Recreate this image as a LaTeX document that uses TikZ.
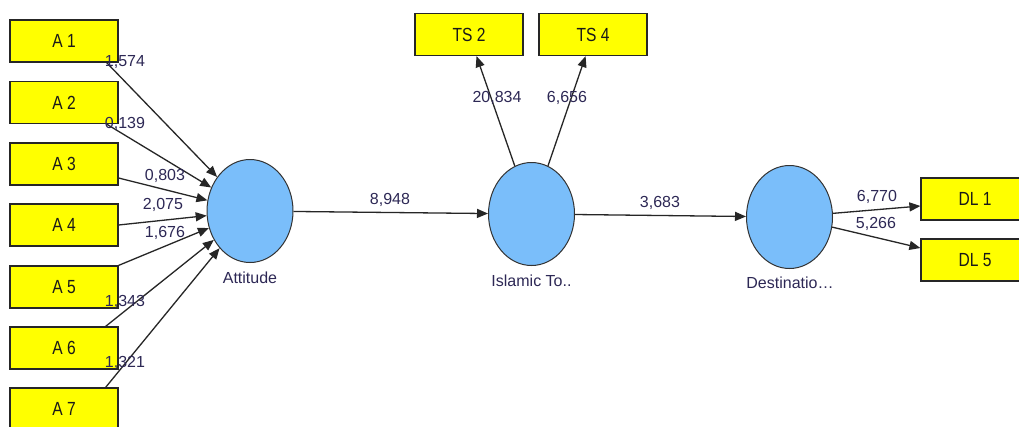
\documentclass[tikz,border=0pt]{standalone}
\usepackage{fontspec}
\setmainfont{Liberation Sans}
\newfontfamily\boxfont[FakeStretch=0.82]{Liberation Sans}
\usetikzlibrary{arrows.meta,shapes.geometric}
\definecolor{boxy}{RGB}{255,255,0}
\definecolor{lat}{RGB}{122,190,250}
\definecolor{lbl}{RGB}{45,40,85}
\begin{document}
\begin{tikzpicture}[x=1pt,y=-1pt,
  ind/.style={draw=black!85,line width=1.2pt,fill=boxy,minimum width=108pt,minimum height=42pt,inner sep=0pt,text=black!90,font=\boxfont\fontsize{19}{22}\selectfont},
  lv/.style={ellipse,draw=black!80,line width=1pt,fill=lat,minimum width=86pt,minimum height=103pt,inner sep=0pt},
  arr/.style={draw=black!85,line width=1.3pt,-{Triangle[length=11pt,width=9pt]}},
  val/.style={text=lbl,font=\fontsize{16}{19}\selectfont,inner sep=0pt},
  lvname/.style={text=lbl,font=\fontsize{16}{19}\selectfont,inner sep=0pt}]
\clip (0,0) rectangle (1019,426);
\fill[white] (0,0) rectangle (1019,426);
% indicators
\node[ind] (a1) at (64,41) {A 1};
\node[ind] (a2) at (64,102.5) {A 2};
\node[ind] (a3) at (64,164) {A 3};
\node[ind] (a4) at (64,225) {A 4};
\node[ind] (a5) at (64,287) {A 5};
\node[ind] (a6) at (64,348) {A 6};
\node[ind] (a7) at (64,409) {A 7};
\node[ind] (ts2) at (469,34.5) {TS 2};
\node[ind] (ts4) at (593,34.5) {TS 4};
\node[ind] (dl1) at (975,199) {DL 1};
\node[ind] (dl5) at (975,260) {DL 5};
% latent variables
\node[lv] (att) at (250,211) {};
\node[lv] (isl) at (531.5,214) {};
\node[lv] (dst) at (789.5,217) {};
\node[lvname] (attn) at (250,278) {Attitude};
\node[lvname] (isln) at (531.5,281) {Islamic To..};
\node[lvname] (dstn) at (790,283) {Destinatio…};
% connectors
\draw[arr] ([xshift=-12pt]a1.south east) -- (att);
\draw[arr] ([xshift=-12pt]a2.south east) -- (att);
\draw[arr] ([yshift=-14pt]a3.east) -- (att);
\draw[arr] (a4.east) -- (att);
\draw[arr] (a5.north east) -- (att);
\draw[arr] ([xshift=-13pt]a6.north east) -- (att);
\draw[arr] ([xshift=-13pt]a7.north east) -- (att);
\draw[arr] (att) -- (isl);
\draw[arr] (isl) -- (dst);
\draw[arr] (isl) -- (ts2);
\draw[arr] (isl) -- (ts4);
\draw[arr] (dst) -- ([yshift=-7pt]dl1.west);
\draw[arr] (dst) -- ([yshift=12pt]dl5.west);
% values
\node[val] (v1) at (125,62) {1,574};
\node[val] (v2) at (125,124) {0,139};
\node[val] (v3) at (165,176) {0,803};
\node[val] (v4) at (163,205) {2,075};
\node[val] (v5) at (165,233) {1,676};
\node[val] (v6) at (125,302) {1,343};
\node[val] (v7) at (125,363) {1,321};
\node[val] (v8) at (390,200) {8,948};
\node[val] (v9) at (660,203) {3,683};
\node[val] (v10) at (497,98) {20,834};
\node[val] (v11) at (567,98) {6,656};
\node[val] (v12) at (877,197) {6,770};
\node[val] (v13) at (876,224) {5,266};
\end{tikzpicture}
\end{document}
